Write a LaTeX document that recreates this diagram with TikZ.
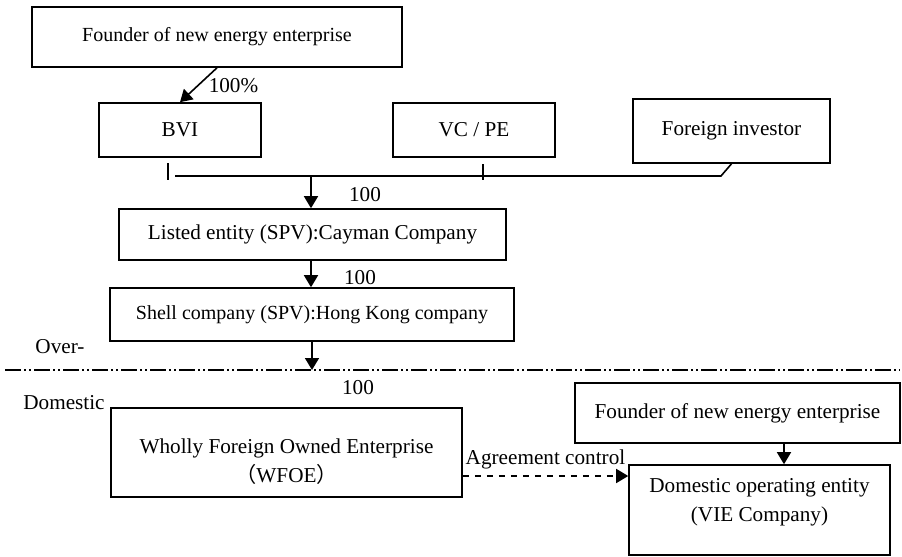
\documentclass[tikz,border=0pt]{standalone}
\usepackage{fontspec}
\setmainfont{Liberation Serif}
\newfontfamily\cjkfont{Noto Sans CJK SC}
\usetikzlibrary{arrows.meta}

\begin{document}
\begin{tikzpicture}[x=0.5pt,y=-0.5pt,line width=0.8pt,font=\fontsize{10.6}{14.5}\selectfont,
	box/.style={draw,rectangle,inner sep=0pt},
	arr/.style={-{Triangle[length=6pt,width=7pt]}},
	lbl/.style={inner sep=0pt}]
	\useasboundingbox (0,0) rectangle (902,557);

	%offshore boxes
	\node[box,minimum width=185pt,minimum height=30pt,font=\fontsize{10}{12}\selectfont] (founder) at (217,37) {Founder of new energy enterprise};
	\node[box,minimum width=81pt,minimum height=27pt] (bvi) at (180,130) {BVI};
	\node[box,minimum width=81pt,minimum height=27pt] (vcpe) at (474,130) {VC / PE};
	\node[box,minimum width=98.5pt,minimum height=32pt] (foreign) at (731.5,131) {Foreign investor};
	\node[box,minimum width=193.5pt,minimum height=25.5pt] (listed) at (312.5,234.5) {Listed entity (SPV):Cayman Company};
	\node[box,minimum width=202pt,minimum height=26.5pt,font=\fontsize{10}{12}\selectfont] (shell) at (312,314.5) {Shell company (SPV):Hong Kong company};

	%domestic boxes
	\node[box,minimum width=175.5pt,minimum height=44.5pt] (wfoe) at (286.5,452.5) {};
	\node[lbl,align=center] (wfoetext) at (286.5,462) {Wholly Foreign Owned Enterprise\\{\cjkfont （}WFOE{\cjkfont ）}};
	\node[box,minimum width=162.5pt,minimum height=30pt] (founder2) at (737.5,413) {Founder of new energy enterprise};
	\node[box,minimum width=130.5pt,minimum height=45pt] (vie) at (759.5,510) {};
	\node[lbl,align=center] (vietext) at (759.5,502.5) {Domestic operating entity\\(VIE Company)};

	%shareholder line
	\coordinate (busL) at (175,176);
	\coordinate (busR) at (721,176);
	\coordinate (busM) at (311,176);
	\draw (busL) -- (busR) -- (foreign.south); %foreign investor joins
	\draw (168,163) -- (168,180); %BVI tick
	\draw (483,164) -- (483,180); %VC/PE tick

	%border
	\coordinate (borderL) at (5,370);
	\coordinate (borderR) at (900,370);
	\draw[dash pattern=on 8pt off 1.5pt on 1pt off 1.5pt on 1pt off 1.5pt] (borderL) -- (borderR);

	%arrows
	\draw[arr] (founder.south) -- (bvi.north);
	\draw[arr] (busM) -- (busM |- listed.north);
	\draw[arr] (listed.south -| busM) -- (shell.north -| busM);
	\draw[arr] (shell.south) -- (shell.south |- borderL);
	\coordinate (ctrlY) at (0,476);
	\draw[arr,dashed] (wfoe.east |- ctrlY) -- (vie.west |- ctrlY);
	\coordinate (f2x) at (784,0);
	\draw[arr] (founder2.south -| f2x) -- (vie.north -| f2x);

	%labels
	\node[lbl] (pct) at (233.5,86) {100\%};
	\node[lbl] (share1) at (365,195) {100};
	\node[lbl] (share2) at (360,278) {100};
	\node[lbl] (share3) at (358,388) {100};
	\node[lbl] (over) at (60,347) {Over-};
	\node[lbl] (domestic) at (64,403) {Domestic};
	\node[lbl] (agree) at (545.5,459) {Agreement control};
\end{tikzpicture}
\end{document}
